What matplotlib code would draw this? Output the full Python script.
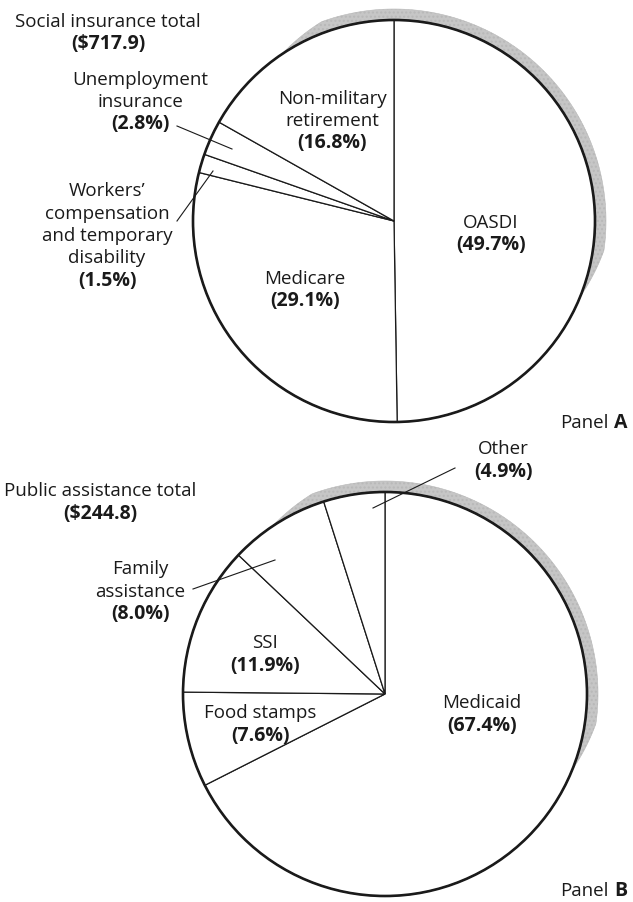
import numpy as np
import matplotlib
matplotlib.use("Agg")
import matplotlib.pyplot as plt
from matplotlib.patches import Circle, Polygon

plt.rcParams['font.family'] = ['Open Sans', 'DejaVu Sans']

# ---------------- data ----------------
a_categories = ["OASDI", "Medicare", "Workers' compensation and temporary disability",
                "Unemployment insurance", "Non-military retirement"]
a_shares = [49.7, 29.1, 1.5, 2.8, 16.8]
a_title = "Social insurance total"
a_total = 717.9

b_categories = ["Medicaid", "Food stamps", "SSI", "Family assistance", "Other"]
b_shares = [67.4, 7.6, 11.9, 8.0, 4.9]
b_title = "Public assistance total"
b_total = 244.8

# ---------------- figure ----------------
W, H = 633, 903
fig = plt.figure(figsize=(W / 100, H / 100), dpi=100)
ax = fig.add_axes([0, 0, 1, 1])

FS = 13.5
FSB = 14.0
INK = '#1a1a1a'
YOFF = 1.5


def Y(y):
    return H - y


def shade(cx, cy, r, phi1=-34, phi2=112, tmax=11, taper=14):
    phi = np.linspace(phi1, phi2, 200)
    t = tmax * np.clip(np.minimum((phi - phi1) / taper, (phi2 - phi) / taper), 0, 1)
    th = np.deg2rad(90 - phi)
    outer = np.column_stack([cx + (r + t) * np.cos(th), Y(cy) + (r + t) * np.sin(th)])
    inner = np.column_stack([cx + r * np.cos(th), Y(cy) + r * np.sin(th)])[::-1]
    ax.add_patch(Polygon(np.vstack([outer, inner]), closed=True, facecolor='#c6c6c6',
                         edgecolor='#b8b8b8', linewidth=0.4, hatch='....', zorder=0.5))


def draw_pie(shares, cx, cy, r):
    shade(cx, cy, r)
    ax.pie(shares, center=(cx, Y(cy)), radius=r, startangle=90, counterclock=False,
           wedgeprops=dict(facecolor='white', edgecolor=INK, linewidth=0.9))
    ax.add_patch(Circle((cx, Y(cy)), r, fill=False, edgecolor=INK, linewidth=1.9, zorder=5))


def label(x, y, lines, pct=None, dy=22.3):
    y = y + YOFF
    for i, ln in enumerate(lines):
        ax.text(x, Y(y + i * dy), ln, ha='center', va='center', fontsize=FS, color=INK)
    if pct is not None:
        ax.text(x, Y(y + len(lines) * dy), pct, ha='center', va='center', fontsize=FSB,
                fontweight='bold', color=INK)


def leader(p1, p2):
    ax.plot([p1[0], p2[0]], [Y(p1[1]), Y(p2[1])], color=INK, linewidth=0.8, zorder=6)


def fmt(v):
    return f"({v:.1f}%)"


def panel_tag(y, letter):
    ax.text(609, Y(y + YOFF), "Panel", ha='right', va='center', fontsize=FS, color=INK)
    ax.text(614, Y(y + YOFF), letter, ha='left', va='center', fontsize=FSB,
            fontweight='bold', color=INK)


# ---------------- Panel A ----------------
draw_pie(a_shares, 394, 222, 201)
label(108, 20, [a_title], f"(${a_total:.1f})")
label(491, 221, ["OASDI"], fmt(a_shares[0]))
label(305, 277, ["Medicare"], fmt(a_shares[1]))
label(107, 190, ["Workers\u2019", "compensation", "and temporary", "disability"], fmt(a_shares[2]))
label(140, 78, ["Unemployment", "insurance"], fmt(a_shares[3]))
label(332, 97, ["Non-military", "retirement"], fmt(a_shares[4]))
leader((177, 127), (232, 150))
leader((177, 222), (213, 172))
panel_tag(421, "A")

# ---------------- Panel B ----------------
draw_pie(b_shares, 385, 695, 202)
label(100, 490, [b_title], f"(${b_total:.1f})")
label(482, 702, ["Medicaid"], fmt(b_shares[0]))
label(260, 712, ["Food stamps"], fmt(b_shares[1]))
label(265, 642, ["SSI"], fmt(b_shares[2]))
label(140, 568, ["Family", "assistance"], fmt(b_shares[3]))
label(503, 448, ["Other"], fmt(b_shares[4]))
leader((193, 590), (275, 561))
leader((455, 469), (373, 509))
panel_tag(890, "B")

ax.set_xlim(0, W)
ax.set_ylim(0, H)
ax.set_aspect('equal')
ax.axis('off')

fig.savefig("out.png", dpi=100, facecolor='white')
